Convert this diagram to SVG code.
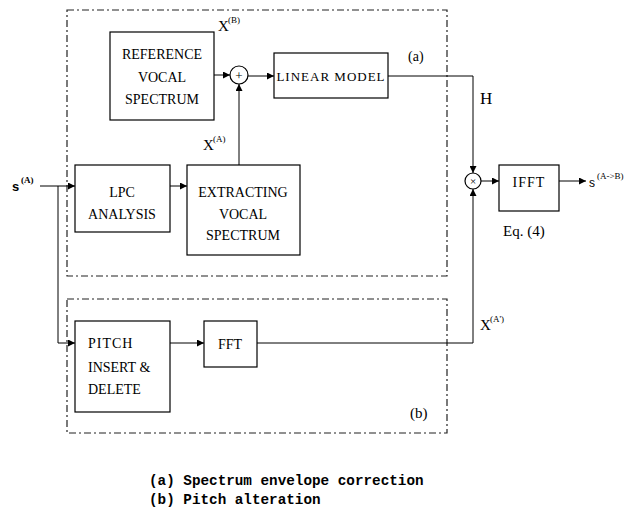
<svg xmlns="http://www.w3.org/2000/svg" width="630" height="512" viewBox="0 0 630 512">
<style>
.box{fill:none;stroke:#000;stroke-width:1.2}
.grp{fill:none;stroke:#222;stroke-width:1.2;stroke-dasharray:7 3 2 3}
.ln{fill:none;stroke:#000;stroke-width:1}
.t{font-family:"Liberation Serif",serif;font-size:14px;fill:#000}
.c{text-anchor:middle}
.sup{font-family:"Liberation Serif",serif;font-size:9px;fill:#000}
.cap{font-family:"Liberation Mono",monospace;font-size:14.3px;font-weight:bold;fill:#000}
</style>
<defs>
<marker id="ar" viewBox="0 0 10 10" refX="10" refY="5" markerWidth="7" markerHeight="7" orient="auto" markerUnits="userSpaceOnUse">
<path d="M0,0 L10,5 L0,10 z" fill="#000"/>
</marker>
</defs>
<rect width="630" height="512" fill="#fff"/>
<g id="group-a">
<rect class="grp" x="67" y="10" width="380" height="266"/>
<text class="t" x="408" y="61">(a)</text>
</g>
<g id="group-b">
<rect class="grp" x="67" y="299" width="380" height="134"/>
<text class="t" x="410" y="418" style="font-size:15px">(b)</text>
</g>
<g id="ref">
<rect class="box" x="110" y="32" width="104" height="88"/>
<text class="t c" x="162" y="59">REFERENCE</text>
<text class="t c" x="162" y="82">VOCAL</text>
<text class="t c" x="162" y="104">SPECTRUM</text>
</g>
<g id="plus">
<circle class="box" cx="239" cy="75" r="9"/>
<text class="t c" x="239" y="80" style="font-size:13px">+</text>
</g>
<g id="linear">
<rect class="box" x="274" y="53" width="114" height="45"/>
<text class="t c" x="331" y="81" style="font-size:13px;letter-spacing:1px">LINEAR MODEL</text>
</g>
<g id="lpc">
<rect class="box" x="75" y="165" width="95" height="67"/>
<text class="t c" x="122" y="197">LPC</text>
<text class="t c" x="122" y="219">ANALYSIS</text>
</g>
<g id="extract">
<rect class="box" x="187" y="165" width="113" height="90"/>
<text class="t c" x="243" y="197">EXTRACTING</text>
<text class="t c" x="243" y="219">VOCAL</text>
<text class="t c" x="243" y="240">SPECTRUM</text>
</g>
<g id="pitch">
<rect class="box" x="75" y="321" width="95" height="91"/>
<text class="t" x="88" y="348" style="letter-spacing:1px">PITCH</text>
<text class="t" x="88" y="372">INSERT &amp;</text>
<text class="t" x="88" y="394">DELETE</text>
</g>
<g id="fft">
<rect class="box" x="204" y="321" width="53" height="46"/>
<text class="t c" x="230" y="349">FFT</text>
</g>
<g id="times">
<circle class="box" cx="473" cy="181" r="8"/>
<text class="t c" x="473" y="185" style="font-size:11px">×</text>
</g>
<g id="ifft">
<rect class="box" x="499" y="165" width="60" height="46"/>
<text class="t c" x="529" y="187" style="letter-spacing:1px">IFFT</text>
<text class="t" x="503" y="236" style="font-size:15px">Eq. (4)</text>
</g>
<g id="labels">
<text x="12" y="191" style="font-family:'Liberation Sans',sans-serif;font-size:13px;font-weight:bold">s</text>
<text class="sup" x="21" y="183" style="font-weight:bold">(A)</text>
<text class="t" x="218" y="31" style="font-size:15px">X</text>
<text class="sup" x="228" y="23">(B)</text>
<text class="t" x="203" y="150" style="font-size:15px">X</text>
<text class="sup" x="213" y="142">(A)</text>
<text class="t" x="480" y="104" style="font-size:17px">H</text>
<text class="t" x="480" y="330" style="font-size:15px">X</text>
<text class="sup" x="490" y="322">(A')</text>
<text x="589" y="187" style="font-family:'Liberation Sans',sans-serif;font-size:12px">s</text>
<text class="sup" x="597" y="179">(A-&gt;B)</text>
</g>
<g id="connectors">
<line class="ln" x1="214" y1="75" x2="230" y2="75" marker-end="url(#ar)"/>
<line class="ln" x1="239" y1="165" x2="239" y2="84" marker-end="url(#ar)"/>
<line class="ln" x1="248" y1="76" x2="274" y2="76" marker-end="url(#ar)"/>
<polyline class="ln" points="388,76 473,76 473,173" marker-end="url(#ar)"/>
<line class="ln" x1="40" y1="186" x2="75" y2="186" marker-end="url(#ar)"/>
<polyline class="ln" points="58,186 58,343 75,343" marker-end="url(#ar)"/>
<line class="ln" x1="170" y1="186" x2="187" y2="186" marker-end="url(#ar)"/>
<line class="ln" x1="170" y1="343" x2="204" y2="343" marker-end="url(#ar)"/>
<polyline class="ln" points="257,343 473,343 473,189" marker-end="url(#ar)"/>
<line class="ln" x1="481" y1="181" x2="499" y2="181" marker-end="url(#ar)"/>
<line class="ln" x1="559" y1="181" x2="586" y2="181" marker-end="url(#ar)"/>
</g>
<g id="captions">
<text class="cap" x="149" y="485">(a) Spectrum envelope correction</text>
<text class="cap" x="149" y="504">(b) Pitch alteration</text>
</g>
</svg>
